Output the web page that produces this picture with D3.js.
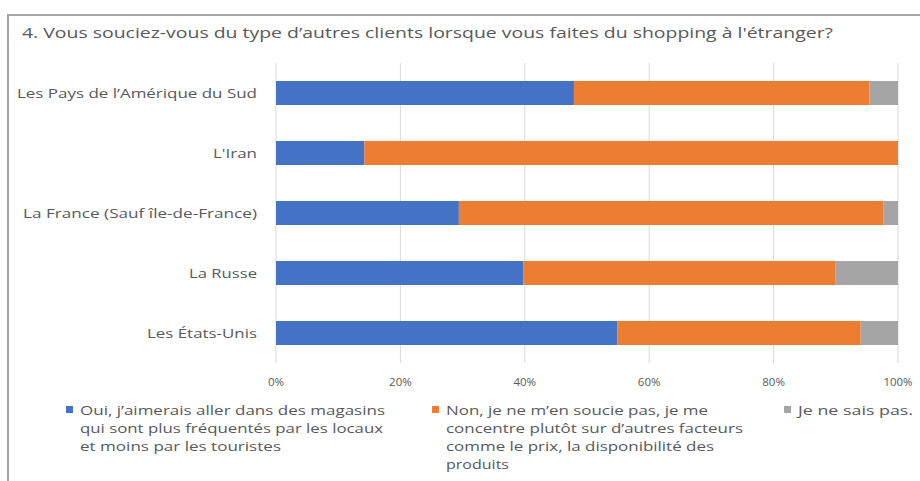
<!DOCTYPE html>
<html>
<head>
    <meta charset="utf-8">
    <title>D3</title>
    <script type="text/javascript" src="https://cdnjs.cloudflare.com/ajax/libs/d3/7.8.5/d3.min.js"></script>
    <style>
        body { margin: 0; background: #fff; }
        svg text { font-family: "Open Sans", "DejaVu Sans", sans-serif; fill: #595959; }
        .grid line { stroke: #d9d9d9; stroke-width: 1; }
    </style>
</head>
<body>
    <div id="chart"></div>
    <script type="text/javascript">
        // data (percent of answers per country)
        const countries = ["Les Pays de l\u2019Amérique du Sud", "L'Iran", "La France (Sauf île-de-France)", "La Russe", "Les États-Unis"]
        const oui = [47.9, 14.2, 29.4, 39.8, 54.9]
        const non = [47.5, 85.8, 68.3, 50.1, 39.1]
        const nsp = [4.6, 0, 2.3, 10.1, 6.0]
        const ticks = [0, 20, 40, 60, 80, 100]
        const seriesNames = [
            ["Oui, j\u2019aimerais aller dans des magasins", "qui sont plus fréquentés par les locaux", "et moins par les touristes"],
            ["Non, je ne m\u2019en soucie pas, je me", "concentre plutôt sur d\u2019autres facteurs", "comme le prix, la disponibilité des", "produits"],
            ["Je ne sais pas."]
        ]
        const title = "4. Vous souciez-vous du type d\u2019autres clients lorsque vous faites du shopping à l'étranger?"

        const colors = ["#4472c4", "#ed7d31", "#a5a5a5"]
        const width = 920, height = 481
        const plot = { left: 276, right: 898, top: 63, bottom: 363 }

        // measured label widths (the picture is stretched horizontally)
        const catWidths = [240, 44, 234, 68, 110]
        const legendWidths = [[305, 303, 201], [262, 297, 268, 63], [115]]

        const svg = d3.select('#chart').append('svg')
            .attr('width', width)
            .attr('height', height)

        // frame
        svg.append('line').attr('x1', 7).attr('x2', width).attr('y1', 15).attr('y2', 15)
            .attr('stroke', '#a6a6a6').attr('stroke-width', 2)
        svg.append('line').attr('x1', 8).attr('x2', 8).attr('y1', 14).attr('y2', height)
            .attr('stroke', '#a6a6a6').attr('stroke-width', 2)

        svg.append('text')
            .attr('x', 22).attr('y', 38)
            .attr('font-size', 14)
            .attr('textLength', 811)
            .attr('lengthAdjust', 'spacingAndGlyphs')
            .text(title)

        var x = d3.scaleLinear().domain([0, 100]).range([plot.left, plot.right])
        var y = d3.scaleBand().domain(countries).range([plot.top, plot.bottom]).paddingInner(0.6).paddingOuter(0.3)

        svg.append('g')
            .attr('class', 'grid')
            .selectAll('line')
            .data(ticks)
            .enter()
            .append('line')
            .attr('x1', d => x(d)).attr('x2', d => x(d))
            .attr('y1', plot.top).attr('y2', plot.bottom)

        const rows = countries.map((c, i) => ({ name: c, vals: [oui[i], non[i], nsp[i]] }))
        const stacked = d3.stack().keys([0, 1, 2]).value((d, k) => d.vals[k])(rows)

        svg.append('g')
            .selectAll('g')
            .data(stacked)
            .enter()
            .append('g')
            .attr('fill', (d, i) => colors[i])
            .selectAll('rect')
            .data(d => d)
            .enter()
            .append('rect')
            .attr('x', d => x(d[0]))
            .attr('width', d => x(d[1]) - x(d[0]))
            .attr('y', d => y(d.data.name))
            .attr('height', y.bandwidth())

        // category labels
        svg.append('g')
            .selectAll('text')
            .data(countries)
            .enter()
            .append('text')
            .attr('x', 257)
            .attr('y', d => y(d) + y.bandwidth() / 2)
            .attr('dy', '0.36em')
            .attr('text-anchor', 'end')
            .attr('font-size', 13)
            .attr('textLength', (d, i) => catWidths[i])
            .attr('lengthAdjust', 'spacingAndGlyphs')
            .text(d => d)

        // x tick labels
        svg.append('g')
            .selectAll('text')
            .data(ticks)
            .enter()
            .append('text')
            .attr('x', d => x(d))
            .attr('y', 382)
            .attr('dy', '0.36em')
            .attr('text-anchor', 'middle')
            .attr('font-size', 11.5)
            .text(d => d + '%')

        // legend
        const legendX = [66, 432, 784]
        const leg = svg.append('g')
            .selectAll('g')
            .data(seriesNames)
            .enter()
            .append('g')
            .attr('transform', (d, i) => 'translate(' + legendX[i] + ',0)')

        leg.append('rect')
            .attr('x', 0).attr('y', 406)
            .attr('width', 7).attr('height', 7)
            .attr('fill', (d, i) => colors[i])

        leg.each(function (lines, i) {
            d3.select(this).selectAll('text')
                .data(lines)
                .enter()
                .append('text')
                .attr('x', 14)
                .attr('y', (d, j) => 410 + j * 18)
                .attr('dy', '0.36em')
                .attr('font-size', 13)
                .attr('textLength', (d, j) => legendWidths[i][j])
                .attr('lengthAdjust', 'spacingAndGlyphs')
                .text(d => d)
        })
    </script>
</body>
</html>
